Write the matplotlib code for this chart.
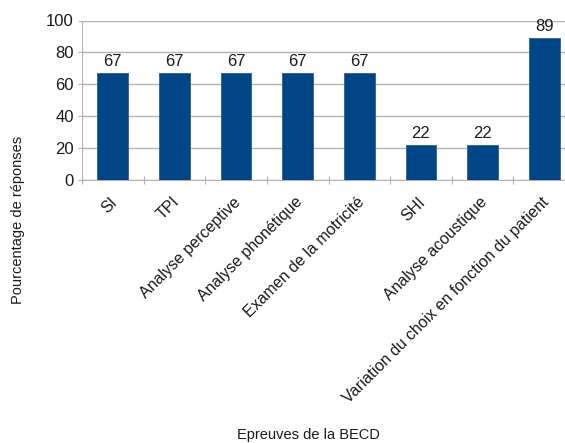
import matplotlib
matplotlib.use("Agg")
import matplotlib.pyplot as plt

categories = [
    "SI", "TPI", "Analyse perceptive", "Analyse phonétique",
    "Examen de la motricité", "SHI", "Analyse acoustique",
    "Variation du choix en fonction du patient",
]
values = [67, 67, 67, 67, 67, 22, 22, 89]
yticks = [0, 20, 40, 60, 80, 100]

plt.rcParams["font.family"] = ["Liberation Sans", "DejaVu Sans"]

W, H = 565, 443
fig = plt.figure(figsize=(W / 100, H / 100), dpi=100)
ax = fig.add_axes([82 / W, 1 - 180 / H, 493 / W, 159.5 / H])

x = list(range(len(categories)))
ax.bar(x, values, width=0.5, color="#004586", edgecolor="#2a5f95",
       linewidth=0.6, zorder=3)
for xi, v in zip(x, values):
    ax.text(xi, v + 2.5, f"{v}", ha="center", va="bottom", fontsize=12,
            color="#1a1a1a")

ax.set_xlim(-0.5, len(categories) - 0.5)
ax.set_ylim(0, 100)
ax.set_yticks(yticks)
ax.set_yticklabels([str(t) for t in yticks], fontsize=12, color="#1a1a1a")
ax.yaxis.grid(True, color="#b3b3b3", linewidth=1, zorder=0)
ax.set_axisbelow(True)

# category ticks sit between bars
ax.set_xticks([i - 0.5 for i in range(len(categories) + 1)])
ax.set_xticklabels([])
ax.tick_params(axis="x", length=6, color="#b3b3b3", direction="inout")
ax.tick_params(axis="y", length=6, color="#b3b3b3", direction="inout", pad=3)

for i, lab in enumerate(categories):
    ax.text(i - 0.05, -9, lab, rotation=45, ha="right", va="top",
            rotation_mode="anchor", fontsize=11.5, color="#1a1a1a",
            transform=ax.transData, clip_on=False)

for side in ["top", "right"]:
    ax.spines[side].set_visible(False)
ax.spines["left"].set_color("#b3b3b3")
ax.spines["bottom"].set_color("#b3b3b3")

fig.text(18 / W, 1 - 220 / H, "Pourcentage de réponses", rotation=90,
         ha="center", va="center", fontsize=10.5, color="#1a1a1a")
fig.text(308 / W, 1 - 435 / H, "Epreuves de la BECD", ha="center",
         va="center", fontsize=10.5, color="#1a1a1a")

fig.savefig("out.png", dpi=100)
